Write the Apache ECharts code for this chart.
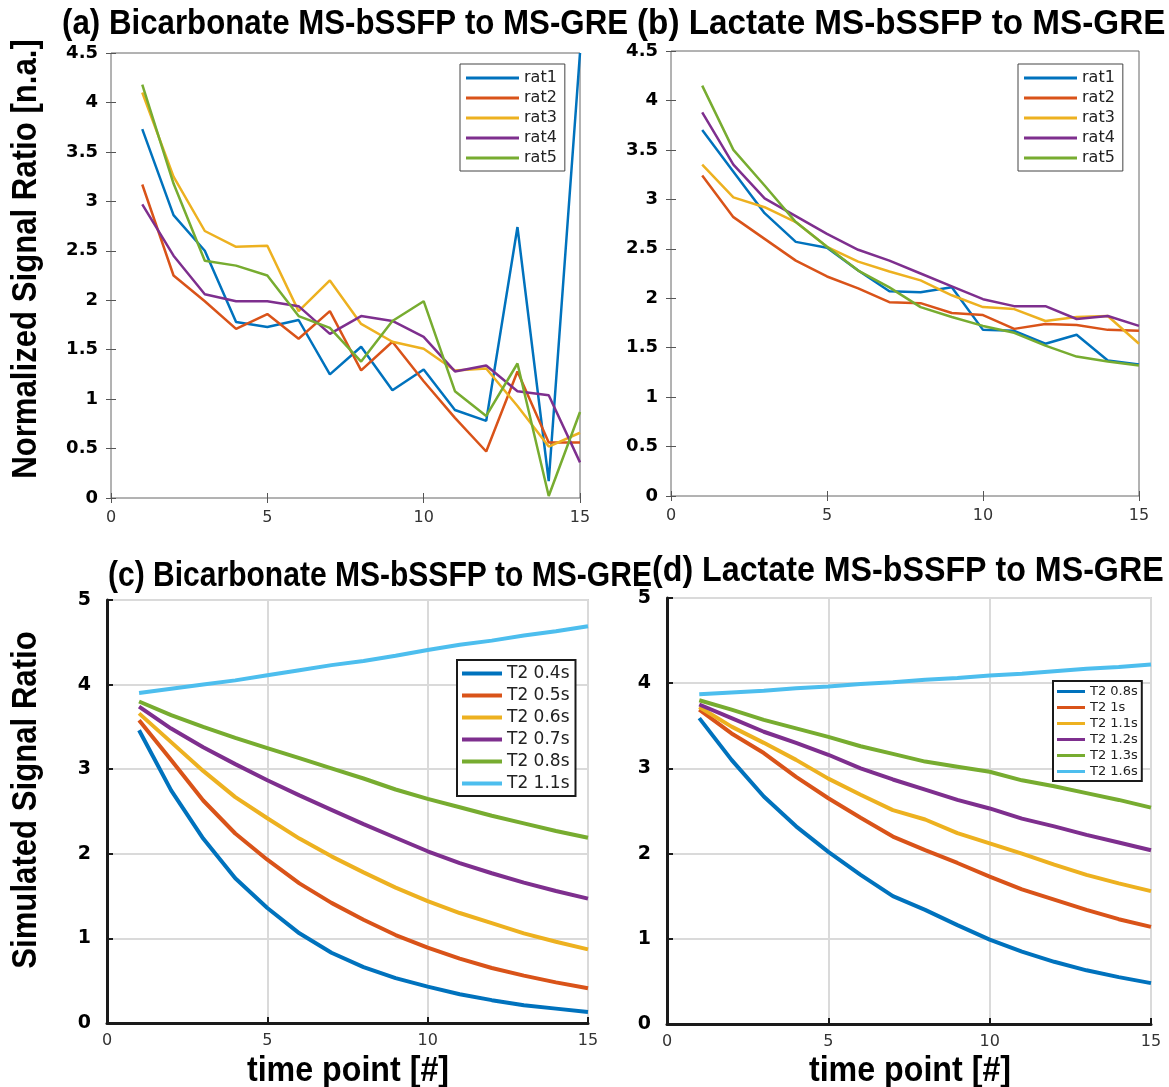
<!DOCTYPE html>
<html>
<head>
<meta charset="utf-8">
<script src="https://cdn.jsdelivr.net/npm/echarts@6/dist/echarts.min.js"></script>
<style>
  html, body { margin: 0; padding: 0; background: #fff; }
  #chart { width: 1169px; height: 1087px; }
</style>
</head>
<body>
<div id="chart"></div>
<script>
// time points shared by every panel
const timePoints = [1, 2, 3, 4, 5, 6, 7, 8, 9, 10, 11, 12, 13, 14, 15];
const xTicks = { min: 0, max: 15, interval: 5 };

// (a) bicarbonate, measured ratio per rat
const ratNames = ['rat1', 'rat2', 'rat3', 'rat4', 'rat5'];
const bicarbRats = [
  [3.73, 2.86, 2.50, 1.78, 1.73, 1.80, 1.25, 1.53, 1.09, 1.30, 0.89, 0.78, 2.74, 0.17, 4.50],
  [3.17, 2.25, 1.99, 1.71, 1.86, 1.61, 1.89, 1.29, 1.58, 1.18, 0.81, 0.47, 1.28, 0.56, 0.56],
  [4.10, 3.25, 2.70, 2.54, 2.55, 1.89, 2.20, 1.76, 1.58, 1.51, 1.29, 1.31, 0.93, 0.52, 0.66],
  [2.97, 2.45, 2.06, 1.99, 1.99, 1.94, 1.66, 1.84, 1.79, 1.63, 1.28, 1.34, 1.08, 1.04, 0.36],
  [4.18, 3.18, 2.40, 2.35, 2.25, 1.84, 1.72, 1.38, 1.79, 1.99, 1.08, 0.83, 1.36, 0.02, 0.87]
];

// (b) lactate, measured ratio per rat
const lactateRats = [
  [3.70, 3.28, 2.86, 2.57, 2.51, 2.28, 2.07, 2.06, 2.11, 1.68, 1.67, 1.54, 1.63, 1.37, 1.33],
  [3.24, 2.82, 2.60, 2.38, 2.22, 2.10, 1.96, 1.95, 1.85, 1.83, 1.69, 1.74, 1.73, 1.68, 1.67],
  [3.35, 3.02, 2.92, 2.77, 2.52, 2.37, 2.27, 2.18, 2.03, 1.91, 1.89, 1.77, 1.81, 1.82, 1.54],
  [3.88, 3.35, 3.01, 2.83, 2.65, 2.49, 2.38, 2.25, 2.12, 1.99, 1.92, 1.92, 1.79, 1.82, 1.72],
  [4.15, 3.50, 3.14, 2.77, 2.52, 2.28, 2.11, 1.91, 1.81, 1.72, 1.65, 1.52, 1.41, 1.36, 1.32]
];

// (c) bicarbonate, simulated ratio per T2
const bicarbT2Names = ['T2 0.4s', 'T2 0.5s', 'T2 0.6s', 'T2 0.7s', 'T2 0.8s', 'T2 1.1s'];
const bicarbSim = [
  [3.46, 2.75, 2.18, 1.71, 1.36, 1.06, 0.83, 0.66, 0.53, 0.43, 0.34, 0.27, 0.21, 0.17, 0.13],
  [3.58, 3.11, 2.63, 2.24, 1.93, 1.65, 1.42, 1.22, 1.04, 0.89, 0.76, 0.65, 0.56, 0.48, 0.41],
  [3.66, 3.32, 2.98, 2.67, 2.42, 2.18, 1.97, 1.78, 1.60, 1.44, 1.30, 1.18, 1.06, 0.96, 0.87],
  [3.74, 3.48, 3.26, 3.06, 2.87, 2.69, 2.52, 2.35, 2.19, 2.03, 1.89, 1.77, 1.66, 1.56, 1.47],
  [3.80, 3.64, 3.50, 3.37, 3.25, 3.13, 3.01, 2.89, 2.76, 2.65, 2.55, 2.45, 2.36, 2.27, 2.19],
  [3.90, 3.95, 4.00, 4.05, 4.11, 4.17, 4.23, 4.28, 4.34, 4.41, 4.47, 4.52, 4.58, 4.63, 4.69]
];

// (d) lactate, simulated ratio per T2
const lactateT2Names = ['T2 0.8s', 'T2 1s', 'T2 1.1s', 'T2 1.2s', 'T2 1.3s', 'T2 1.6s'];
const lactateSim = [
  [3.59, 3.10, 2.67, 2.32, 2.02, 1.75, 1.50, 1.34, 1.16, 0.99, 0.85, 0.73, 0.63, 0.55, 0.48],
  [3.69, 3.41, 3.18, 2.90, 2.65, 2.42, 2.20, 2.04, 1.89, 1.73, 1.58, 1.46, 1.34, 1.23, 1.14],
  [3.72, 3.49, 3.30, 3.10, 2.88, 2.69, 2.51, 2.40, 2.24, 2.12, 2.00, 1.87, 1.75, 1.65, 1.56],
  [3.75, 3.59, 3.43, 3.30, 3.16, 3.00, 2.87, 2.75, 2.63, 2.53, 2.41, 2.32, 2.22, 2.13, 2.04],
  [3.80, 3.69, 3.57, 3.47, 3.37, 3.26, 3.17, 3.08, 3.02, 2.96, 2.86, 2.79, 2.71, 2.63, 2.54],
  [3.87, 3.89, 3.91, 3.94, 3.96, 3.99, 4.01, 4.04, 4.06, 4.09, 4.11, 4.14, 4.17, 4.19, 4.22]
];

const colors = ['#0072BD', '#D95319', '#EDB120', '#7E2F8E', '#77AC30', '#4DBEEE'];
const tickFont = '"DejaVu Sans", sans-serif';
// no narrow font installed: squeeze Liberation Sans Bold horizontally instead
const headFont = 'bold 35px "Liberation Sans", Arial, sans-serif';

const chart = echarts.init(document.getElementById('chart'));

// panel prefix keeps legends of different panels apart (same T2 names in c and d)
function makeSeries(prefix, names, values, gridIdx, width) {
  return names.map(function (n, i) {
    return {
      name: prefix + n,
      type: 'line',
      xAxisIndex: gridIdx,
      yAxisIndex: gridIdx,
      showSymbol: false,
      color: colors[i],
      lineStyle: { width: width, color: colors[i] },
      data: timePoints.map(function (t, k) { return [t, values[i][k]]; })
    };
  });
}

const stripPrefix = function (name) { return name.replace(/^[a-d]:/, ''); };

function topX(gridIdx, pos) {
  return {
    type: 'value', gridIndex: gridIdx, position: pos, min: xTicks.min, max: xTicks.max, interval: xTicks.interval,
    axisLine: { show: false },
    axisTick: { show: true, inside: true, length: 5, lineStyle: { color: '#555' } },
    axisLabel: { show: pos === 'bottom', margin: 12, fontFamily: tickFont, fontSize: 16, color: '#333' },
    splitLine: { show: false }
  };
}
function topY(gridIdx, pos) {
  return {
    type: 'value', gridIndex: gridIdx, position: pos, min: 0, max: 4.5, interval: 0.5,
    axisLine: { show: false },
    axisTick: { show: true, inside: true, length: 5, lineStyle: { color: '#555' } },
    axisLabel: { show: pos === 'left', margin: 13, fontFamily: tickFont, fontWeight: 'bold', fontSize: 18, color: '#000' },
    splitLine: { show: false }
  };
}
function botX(gridIdx) {
  return {
    type: 'value', gridIndex: gridIdx, min: xTicks.min, max: xTicks.max, interval: xTicks.interval,
    axisLine: { show: true, lineStyle: { color: '#1a1a1a', width: 3 } },
    axisTick: { show: true, inside: true, length: 6, lineStyle: { color: '#1a1a1a', width: 2 } },
    axisLabel: { margin: 10, fontFamily: tickFont, fontSize: 16, color: '#333' },
    splitLine: { show: true, lineStyle: { color: '#dadada', width: 2 } }
  };
}
function botY(gridIdx) {
  return {
    type: 'value', gridIndex: gridIdx, min: 0, max: 5, interval: 1,
    axisLine: { show: true, lineStyle: { color: '#1a1a1a', width: 3 } },
    axisTick: { show: true, inside: true, length: 6, lineStyle: { color: '#1a1a1a', width: 2 } },
    axisLabel: { margin: 16, fontFamily: tickFont, fontWeight: 'bold', fontSize: 19, color: '#000' },
    splitLine: { show: true, lineStyle: { color: '#dadada', width: 2 } }
  };
}

function headText(text, x, y, align, squeeze, rotated) {
  return {
    type: 'text', x: x, y: y, scaleX: squeeze, rotation: rotated ? Math.PI / 2 : 0,
    style: { text: text, font: headFont, fill: '#000', align: align, verticalAlign: rotated ? 'middle' : 'top' }
  };
}

function legendBox(prefix, names, left, top, opts) {
  return {
    orient: 'vertical', left: left, top: top, icon: 'rect',
    itemWidth: opts.w, itemHeight: opts.h, itemGap: opts.gap,
    padding: opts.pad, borderColor: opts.border, borderWidth: opts.bw, backgroundColor: '#fff',
    textStyle: { fontFamily: tickFont, fontSize: opts.fs, color: '#222' },
    formatter: stripPrefix, data: names.map(function (n) { return prefix + n; })
  };
}

const option = {
  backgroundColor: '#fff',
  animation: false,
  grid: [
    { left: 111, top: 53, width: 469, height: 445, show: true, borderColor: '#666', borderWidth: 1 },
    { left: 671, top: 51, width: 468, height: 445, show: true, borderColor: '#666', borderWidth: 1 },
    { left: 107, top: 600, width: 481, height: 423, show: true, borderColor: '#d4d4d4', borderWidth: 2 },
    { left: 667, top: 598, width: 484, height: 426, show: true, borderColor: '#d4d4d4', borderWidth: 2 }
  ],
  xAxis: [
    topX(0, 'bottom'), topX(1, 'bottom'), botX(2), botX(3),
    topX(0, 'top'), topX(1, 'top')
  ],
  yAxis: [
    topY(0, 'left'), topY(1, 'left'), botY(2), botY(3),
    topY(0, 'right'), topY(1, 'right')
  ],
  legend: [
    legendBox('a:', ratNames, 460, 64, { w: 53, h: 3, gap: 4, pad: [6, 8, 5, 6], border: '#444', bw: 1, fs: 16 }),
    legendBox('b:', ratNames, 1018, 64, { w: 53, h: 3, gap: 4, pad: [6, 8, 5, 6], border: '#444', bw: 1, fs: 16 }),
    legendBox('c:', bicarbT2Names, 457, 660, { w: 40, h: 4, gap: 5, pad: [5, 6, 4, 5], border: '#1a1a1a', bw: 2, fs: 17 }),
    legendBox('d:', lactateT2Names, 1053, 681, { w: 28, h: 3, gap: 3, pad: [4, 4, 3, 4], border: '#1a1a1a', bw: 2, fs: 13 })
  ],
  graphic: [
    headText('(a) Bicarbonate MS-bSSFP to MS-GRE', 62, 7, 'left', 0.893),
    headText('(b) Lactate MS-bSSFP to MS-GRE', 637, 7, 'left', 0.95),
    headText('(c) Bicarbonate MS-bSSFP to MS-GRE', 108, 559, 'left', 0.858),
    headText('(d) Lactate MS-bSSFP to MS-GRE', 652, 554, 'left', 0.92),
    headText('Normalized Signal Ratio [n.a.]', 26, 259, 'center', 0.89, true),
    headText('Simulated Signal Ratio', 26, 800, 'center', 0.89, true),
    headText('time point [#]', 348, 1054, 'center', 0.92),
    headText('time point [#]', 910, 1054, 'center', 0.92)
  ],
  series: [].concat(
    makeSeries('a:', ratNames, bicarbRats, 0, 2.5),
    makeSeries('b:', ratNames, lactateRats, 1, 2.5),
    makeSeries('c:', bicarbT2Names, bicarbSim, 2, 4),
    makeSeries('d:', lactateT2Names, lactateSim, 3, 4)
  )
};

chart.setOption(option);
</script>
</body>
</html>
